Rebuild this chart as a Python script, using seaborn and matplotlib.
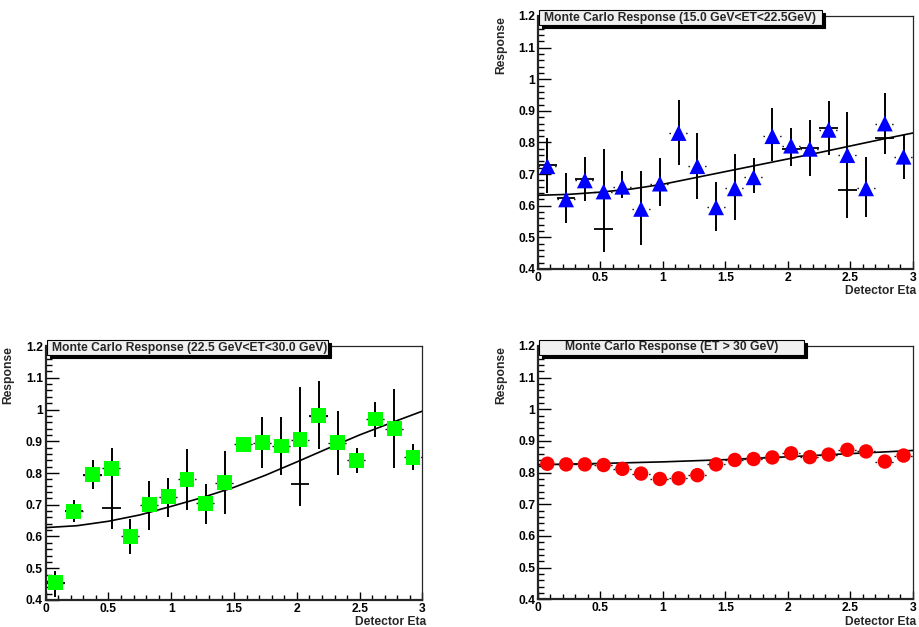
import numpy as np
import matplotlib
matplotlib.use("Agg")
import matplotlib.pyplot as plt
import matplotlib.transforms as mtransforms
from matplotlib.patches import Rectangle
from matplotlib.ticker import MultipleLocator, FormatStrFormatter
import seaborn as sns

# --- data ---
eta = [0.075, 0.225, 0.375, 0.525, 0.675, 0.825, 0.975, 1.125, 1.275, 1.425,
       1.575, 1.725, 1.875, 2.025, 2.175, 2.325, 2.475, 2.625, 2.775, 2.925]
bin_half = 0.075

# 15.0 < ET < 22.5
resp_lo = [0.725, 0.62, 0.68, 0.645, 0.66, 0.59, 0.67, 0.83, 0.725, 0.595,
           0.655, 0.69, 0.82, 0.79, 0.78, 0.84, 0.76, 0.655, 0.86, 0.755]
down_lo = [0.64, 0.545, 0.615, 0.455, 0.625, 0.475, 0.60, 0.73, 0.62, 0.52,
           0.555, 0.64, 0.74, 0.725, 0.695, 0.76, 0.56, 0.565, 0.765, 0.685]
up_lo = [0.815, 0.705, 0.755, 0.78, 0.71, 0.71, 0.75, 0.935, 0.83, 0.675,
         0.765, 0.75, 0.91, 0.845, 0.87, 0.93, 0.895, 0.755, 0.955, 0.825]
cross_eta_lo = [0.075, 0.225, 0.375, 0.525, 2.025, 2.175, 2.325, 2.475, 2.775]
cross_val_lo = [0.73, 0.623, 0.685, 0.525, 0.78, 0.784, 0.845, 0.65, 0.814]
fit_x_lo = [0.0, 0.25, 0.5, 0.75, 1.0, 1.25, 1.5, 1.75, 2.0, 2.25, 2.5, 2.75, 3.0]
fit_y_lo = [0.633, 0.636, 0.643, 0.653, 0.668, 0.688, 0.708, 0.728, 0.748,
            0.768, 0.789, 0.81, 0.83]

# 22.5 < ET < 30.0
resp_mid = [0.455, 0.68, 0.795, 0.815, 0.60, 0.70, 0.725, 0.78, 0.705, 0.77,
            0.89, 0.895, 0.885, 0.905, 0.98, 0.895, 0.84, 0.97, 0.94, 0.85]
down_mid = [0.41, 0.645, 0.75, 0.625, 0.545, 0.62, 0.66, 0.685, 0.64, 0.67,
            0.88, 0.815, 0.795, 0.695, 0.875, 0.795, 0.80, 0.915, 0.815, 0.81]
up_mid = [0.49, 0.715, 0.84, 0.88, 0.655, 0.775, 0.785, 0.875, 0.765, 0.87,
          0.90, 0.975, 0.975, 1.07, 1.09, 0.995, 0.88, 1.025, 1.065, 0.89]
cross_eta_mid = [0.075, 0.225, 0.375, 0.525, 2.025, 2.175]
cross_val_mid = [0.455, 0.68, 0.795, 0.69, 0.765, 0.98]
fit_x_mid = [0.0, 0.25, 0.5, 0.75, 1.0, 1.25, 1.5, 1.75, 2.0, 2.25, 2.5, 2.75, 3.0]
fit_y_mid = [0.628, 0.634, 0.648, 0.668, 0.695, 0.723, 0.755, 0.793, 0.835,
             0.878, 0.92, 0.958, 0.995]

# ET > 30
resp_hi = [0.828, 0.826, 0.826, 0.824, 0.812, 0.797, 0.78, 0.782, 0.792, 0.826,
           0.84, 0.843, 0.848, 0.861, 0.849, 0.857, 0.872, 0.867, 0.835, 0.854]
fit_x_hi = [0.0, 0.5, 1.0, 1.5, 2.0, 2.5, 3.0]
fit_y_hi = [0.825, 0.829, 0.834, 0.841, 0.85, 0.86, 0.87]

titles = ["Monte Carlo Response (15.0 GeV<ET<22.5GeV)",
          "Monte Carlo Response (22.5 GeV<ET<30.0 GeV)",
          "Monte Carlo Response (ET > 30 GeV)"]

sns.set_style("ticks")
plt.rcParams['font.family'] = ['Liberation Sans', 'DejaVu Sans']
plt.rcParams['font.weight'] = 'bold'
FS = 8.7

fig = plt.figure(figsize=(9.19, 6.27), dpi=100)
ax_top = fig.add_axes([0.5854, 0.571, 0.408, 0.4035])
ax_bl = fig.add_axes([0.0497, 0.0431, 0.410, 0.405])
ax_br = fig.add_axes([0.5854, 0.0442, 0.408, 0.4040])


def draw_panel(ax, resp, down, up, cx, cv, fx, fy, marker, color, size,
               title, box_right, centered=False):
    resp = np.array(resp)
    eta_a = np.array(eta)
    if down is not None:
        ax.vlines(eta_a, down, up, colors='black', lw=1.4, zorder=2)
    if cx:
        cx = np.array(cx)
        ax.hlines(cv, cx - bin_half, cx + bin_half, colors='black', lw=1.3, zorder=2)
    ax.hlines(resp, eta_a - bin_half, eta_a + bin_half, colors='black',
              linestyles=(0, (1, 3)), lw=1.0, zorder=2)
    sns.lineplot(x=fx, y=fy, ax=ax, color='black', lw=1.2, zorder=3)
    sns.scatterplot(x=eta_a, y=resp, ax=ax, marker=marker, color=color,
                    s=size, edgecolor='none', linewidth=0, zorder=5)

    ax.set_xlim(0, 3)
    ax.set_ylim(0.4, 1.2)
    ax.xaxis.set_major_locator(MultipleLocator(0.5))
    ax.xaxis.set_minor_locator(MultipleLocator(0.1))
    ax.yaxis.set_major_locator(MultipleLocator(0.1))
    ax.yaxis.set_minor_locator(MultipleLocator(0.02))
    ax.xaxis.set_major_formatter(FormatStrFormatter('%g'))
    ax.yaxis.set_major_formatter(FormatStrFormatter('%g'))
    ax.tick_params(axis='both', which='both', direction='in', width=1.0,
                   labelsize=FS, colors='black')
    ax.tick_params(axis='y', which='major', length=9, pad=2)
    ax.tick_params(axis='y', which='minor', length=4.5)
    ax.tick_params(axis='x', which='major', length=6, pad=2)
    ax.tick_params(axis='x', which='minor', length=3.5)
    for lab in ax.get_xticklabels() + ax.get_yticklabels():
        lab.set_fontweight('bold')
    for side in ['top', 'right']:
        ax.spines[side].set_linewidth(0.9)
    for side in ['left', 'bottom']:
        ax.spines[side].set_linewidth(1.6)

    ax.set_xlabel("Detector Eta", loc='right', fontsize=FS, fontweight='bold')
    ax.xaxis.set_label_coords(1.01, -0.065)
    ax.set_ylabel("Response", loc='top', fontsize=FS, fontweight='bold')
    ax.yaxis.set_label_coords(-0.083, 1.0)

    # title box with drop shadow
    y0, y1 = 0.964, 1.024
    x0 = 0.004
    shadow_tr = mtransforms.offset_copy(ax.transAxes, fig=fig, x=3, y=-3,
                                        units='dots')
    ax.add_patch(Rectangle((x0, y0), box_right - x0, y1 - y0,
                           transform=shadow_tr, facecolor='black',
                           edgecolor='black', lw=0.8, clip_on=False, zorder=8))
    ax.add_patch(Rectangle((x0, y0), box_right - x0, y1 - y0,
                           transform=ax.transAxes, facecolor='#f0f0f0',
                           edgecolor='black', lw=0.8, clip_on=False, zorder=9))
    if centered:
        ax.text((x0 + box_right) / 2, (y0 + y1) / 2, title, transform=ax.transAxes,
                ha='center', va='center', fontsize=FS, fontweight='bold', zorder=10)
    else:
        ax.text(x0 + 0.012, (y0 + y1) / 2, title, transform=ax.transAxes,
                ha='left', va='center', fontsize=FS, fontweight='bold', zorder=10)


draw_panel(ax_top, resp_lo, down_lo, up_lo, cross_eta_lo, cross_val_lo,
           fit_x_lo, fit_y_lo, '^', '#0000ff', 130, titles[0], 0.757)
draw_panel(ax_bl, resp_mid, down_mid, up_mid, cross_eta_mid, cross_val_mid,
           fit_x_mid, fit_y_mid, 's', '#00ff00', 115, titles[1], 0.75)
draw_panel(ax_br, resp_hi, None, None, [], [], fit_x_hi, fit_y_hi,
           'o', '#ff0000', 108, titles[2], 0.71, centered=True)

fig.savefig("out.png", dpi=100)
